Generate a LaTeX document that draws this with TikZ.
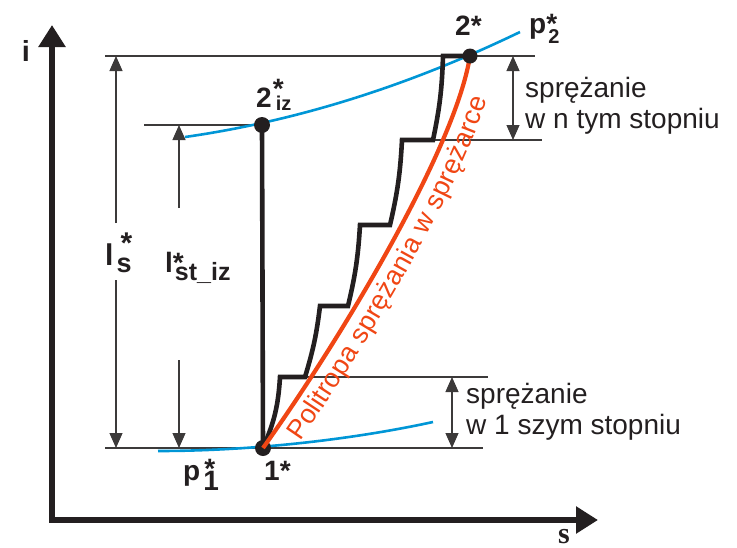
\documentclass[tikz,border=0pt]{standalone}
\usepackage{fontspec}
\setmainfont{Liberation Sans}
\newfontfamily\serifbf{Liberation Serif}
\usetikzlibrary{arrows.meta,decorations.text}
\definecolor{ink}{RGB}{35,31,32}
\definecolor{thinink}{RGB}{60,58,58}
\definecolor{isob}{RGB}{0,150,214}
\definecolor{polr}{RGB}{240,70,20}
\newcommand\fsz[1]{\fontsize{#1}{#1}\selectfont}
% \lab{main}{star kern}{star raise}{sub kern}{sub raise}{sub}
\newcommand\lab[6]{#1\rlap{\hspace{#2}\raisebox{#3}{*}}\hspace{#4}\raisebox{#5}{#6}}
\begin{document}
\begin{tikzpicture}[x=1pt,y=-1pt,
  thinline/.style={draw=thinink, line width=1.2pt},
  dim/.style={thinline, -{Triangle[width=13pt,length=15pt]}},
  dimboth/.style={thinline, {Triangle[width=13pt,length=15pt]}-{Triangle[width=13pt,length=15pt]}},
  axis/.style={draw=ink, line width=6pt, line join=miter, {Triangle[width=26pt,length=22pt]}-{Triangle[width=26pt,length=22pt]}},
  isobar/.style={draw=isob, line width=2.6pt},
  thickink/.style={draw=ink, line width=4.6pt},
  state/.style={circle, fill=ink, inner sep=0pt, minimum size=16pt},
  lbl/.style={font=\bfseries\fsz{28}, text=ink, inner sep=0pt, anchor=base west},
  note/.style={font=\fontsize{28}{31}\selectfont, text=ink, inner sep=0pt, anchor=base west, align=left},
]
\useasboundingbox (0,0) rectangle (737,547);

% key coordinates
\coordinate (O) at (52,520);
\coordinate (Itip) at (52,25);
\coordinate (Stip) at (598,520);
\coordinate (P1) at (263,448);
\coordinate (P2iz) at (262,125);
\coordinate (P2) at (470,56);

\coordinate (TL) at (105,56);   \coordinate (TR) at (535,56);
\coordinate (ML) at (144,125);
\coordinate (BL) at (105,448);  \coordinate (BR) at (483,448);
\coordinate (S1L) at (280,377); \coordinate (S1R) at (488,377);
\coordinate (SnL) at (433,140); \coordinate (SnR) at (542,140);

\coordinate (lsTop) at (116,56);   \coordinate (lsGapT) at (116,223);
\coordinate (lsGapB) at (116,280); \coordinate (lsBot) at (116,448);
\coordinate (liTop) at (179,125);  \coordinate (liGapT) at (179,208);
\coordinate (liGapB) at (179,360); \coordinate (liBot) at (179,448);
\coordinate (dnT) at (513,56);  \coordinate (dnB) at (513,140);
\coordinate (d1T) at (452,377); \coordinate (d1B) at (452,448);

% thin reference lines
\draw[thinline] (TL) -- (TR);
\draw[thinline] (ML) -- (P2iz);
\draw[thinline] (BL) -- (BR);
\draw[thinline] (S1L) -- (S1R);
\draw[thinline] (SnL) -- (SnR);

% dimension arrows
\draw[dim] (lsGapT) -- (lsTop);
\draw[dim] (lsGapB) -- (lsBot);
\draw[dim] (liGapT) -- (liTop);
\draw[dim] (liGapB) -- (liBot);
\draw[dimboth] (dnT) -- (dnB);
\draw[dimboth] (d1T) -- (d1B);

% isobars
\draw[isobar] (158,451) .. controls (250,451) and (350,440) .. (433,422);
\draw[isobar] (185,137) .. controls (297,121) and (408,86) .. (520,32);

% staircase of real stages
\coordinate (A1) at (305,377); \coordinate (B2) at (320,306); \coordinate (A2) at (348,306);
\coordinate (B3) at (360,225); \coordinate (A3) at (390,225); \coordinate (B4) at (402,140);
\coordinate (B5) at (443,56);
\draw[thickink, line join=miter] (P1) to[bend right=10] (S1L) -- (A1) to[bend right=5] (B2) -- (A2)
  to[bend right=5] (B3) -- (A3) to[bend right=5] (B4) -- (SnL) to[bend right=5] (B5) -- (P2);

% isentropic compression
\draw[thickink] (P2iz) -- (P1);

\node[state] (n1) at (P1) {};

% polytrope
\draw[draw=polr, line width=4.2pt] (P1) .. controls (340,340) and (455,150) .. (P2);
\path[decorate, decoration={text along path, raise=-27pt, text align={left indent=26pt},
  text={|\fsz{27}\color{polr}|Politropa sprężania w sprężarce}}]
  (P1) .. controls (340,340) and (455,150) .. (P2);

\node[state] (n2iz) at (P2iz) {};
\node[state, minimum size=15pt] (n2) at (P2) {};

% labels
\node[lbl] (l2) at (455,35) {2*};
\node[lbl] (lp2) at (529,33) {\lab{p}{0pt}{0pt}{2pt}{-10pt}{\fsz{20}2}};
\node[lbl] (l2iz) at (256,107) {\lab{2}{1pt}{9pt}{4pt}{-3pt}{\fsz{20}iz}};
\node[lbl] (l1) at (264,480) {1*};
\node[lbl] (lp1) at (183,480) {\lab{p}{4pt}{2pt}{3pt}{-10pt}{1}};
\node[lbl, font=\bfseries\fsz{30}] (lls) at (105,265) {\lab{l}{7pt}{12pt}{3pt}{-7pt}{\fsz{27}s}};
\node[lbl] (llst) at (165,272) {\lab{l}{0pt}{0pt}{2pt}{-8pt}{\fsz{25}st\_iz}};

\node[note] (noten) at (525,128) {sprężanie\\w n tym stopniu};
\node[note] (note1) at (466,434) {sprężanie\\w 1 szym stopniu};

% axes
\draw[axis] (Itip) -- (O) -- (Stip);
\node[font=\bfseries\fsz{29}, text=ink, inner sep=0pt, anchor=base] (li) at (26,61) {i};
\node[font=\serifbf\bfseries\fsz{30}, text=ink, inner sep=0pt, anchor=base] (lsx) at (564,543) {s};
\end{tikzpicture}
\end{document}
